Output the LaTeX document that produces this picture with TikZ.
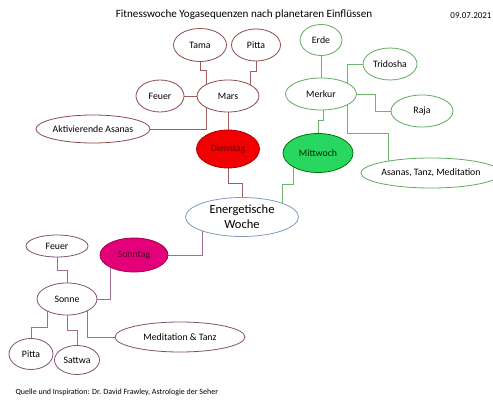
\documentclass[tikz,border=0pt]{standalone}
\usepackage{fontspec}
\setmainfont{Carlito}
\usetikzlibrary{shapes.geometric,calc}
\pgfdeclarelayer{bg}
\pgfsetlayers{bg,main}
\definecolor{marsc}{RGB}{140,75,75}
\definecolor{marsl}{RGB}{160,95,95}
\definecolor{merkc}{RGB}{95,170,95}
\definecolor{merkl}{RGB}{110,180,110}
\definecolor{sonnc}{RGB}{130,80,115}
\definecolor{sonnl}{RGB}{160,110,145}
\definecolor{ewc}{RGB}{125,155,190}
\definecolor{redfill}{RGB}{240,0,0}
\definecolor{greenfill}{RGB}{40,215,95}
\definecolor{pinkfill}{RGB}{228,0,120}
\tikzset{
  el/.style={ellipse, draw, fill=white, inner sep=0pt, line width=0.8pt, font=\fontsize{9.8}{11}\selectfont},
  marsel/.style={el, draw=marsc},
  merkel/.style={el, draw=merkc},
  sonnel/.style={el, draw=sonnc},
  lnmars/.style={draw=marsl, line width=0.8pt},
  lnmerk/.style={draw=merkl, line width=0.8pt},
  lnsonn/.style={draw=sonnl, line width=0.8pt},
  sz/.style 2 args={minimum width=#1pt, minimum height=#2pt}
}
\begin{document}
\begin{tikzpicture}[x=1pt,y=-1pt]
\useasboundingbox (0,0) rectangle (493,409);
% title, date, source
\node[font=\fontsize{11.1}{13}\selectfont] (title) at (244,15) {Fitnesswoche Yogasequenzen nach planetaren Einflüssen};
\node[font=\fontsize{9}{10}\selectfont] (date) at (471,16) {09.07.2021};
\node[font=\fontsize{8}{9}\selectfont, anchor=west] (src) at (12,392) {Quelle und Inspiration: Dr. David Frawley, Astrologie der Seher};
% Mars group
\node[marsel, sz={53}{33}] (tama) at (200,45) {Tama};
\node[marsel, sz={49}{32}] (pitta1) at (256,45) {Pitta};
\node[marsel, sz={48}{32}] (feuer1) at (160,96) {Feuer};
\node[marsel, sz={62}{32}] (mars) at (228,96) {Mars};
\node[marsel, sz={114}{28}] (aktiv) at (93,129) {Aktivierende Asanas};
\node[el, draw=red!70!black, fill=redfill, text=red!45!black, sz={63}{38}] (dienstag) at (228,149) {Dienstag};
% Merkur group
\node[merkel, sz={42}{31}] (erde) at (321,40) {Erde};
\node[merkel, sz={54}{32}] (tridosha) at (390,64) {Tridosha};
\node[merkel, sz={71}{32}] (merkur) at (321,94) {Merkur};
\node[merkel, sz={62}{32}] (raja) at (422,111) {Raja};
\node[merkel, sz={120}{30}] (asanas) at (431,173) {Asanas, Tanz, Meditation};
\node[el, draw=green!45!black, fill=greenfill, text=green!15!black, sz={70}{39}] (mittwoch) at (318,153) {Mittwoch};
% centre
\node[el, draw=ewc, sz={113}{39}, align=center, font=\fontsize{12.5}{15}\selectfont] (ew) at (242,217) {Energetische\\Woche};
% Sonne group
\node[sonnel, sz={62}{22}] (feuer2) at (57,246) {Feuer};
\node[el, draw=pinkfill!70!black, fill=pinkfill, text=pinkfill!35!black, sz={68}{34}] (sonntag) at (134,255) {Sonntag};
\node[sonnel, sz={60}{32}] (sonne) at (67,299) {Sonne};
\node[sonnel, sz={44}{31}] (pitta2) at (31,354) {Pitta};
\node[sonnel, sz={45}{29}] (sattwa) at (77,360) {Sattwa};
\node[sonnel, sz={130}{30}] (med) at (180,337) {Meditation \& Tanz};
% connectors
\begin{pgfonlayer}{bg}
\draw[lnmars] (tama.south) -- ++(0,9) -| ($(mars.center)+(-22,0)$);
\draw[lnmars] (pitta1.south) -- ++(0,10) -| ($(mars.center)+(22,0)$);
\draw[lnmars] (feuer1) -- (mars);
\draw[lnmars] (mars) -- (dienstag);
\draw[lnmars] ($(mars.center)+(-22,0)$) |- (aktiv);
\draw[lnmars] (dienstag.south) -- ++(0,15) -| (ew);
\draw[lnmerk] ($(mittwoch.center)+(-25,0)$) |- ($(ew.center)+(40,-33)$) -- ($(ew.center)+(40,0)$);
\draw[lnmerk] (erde) -- (merkur);
\draw[lnmerk] ($(merkur.center)+(26,0)$) |- (tridosha);
\draw[lnmerk] (merkur) -| ($(raja.center)+(-47,0)$) -- (raja);
\draw[lnmerk] ($(merkur.center)+(2,0)$) -- ++(0,26) -| (mittwoch);
\draw[lnmerk] ($(merkur.center)+(26,0)$) |- ($(asanas.center)+(-43,-40)$) -- ($(asanas.center)+(-43,0)$);
\draw[lnsonn] ($(ew.center)+(-40,0)$) |- (sonntag);
\draw[lnsonn] ($(sonntag.center)+(-24,0)$) |- (sonne);
\draw[lnsonn] (feuer2.south) -- ++(0,13) -| (sonne);
\draw[lnsonn] ($(sonne.center)+(-20,0)$) |- ($(pitta2.center)+(0,-27)$) -- (pitta2);
\draw[lnsonn] (sonne) |- ($(sattwa.center)+(0,-30)$) -- (sattwa);
\draw[lnsonn] ($(sonne.center)+(20,0)$) |- (med);
\end{pgfonlayer}
\end{tikzpicture}
\end{document}
